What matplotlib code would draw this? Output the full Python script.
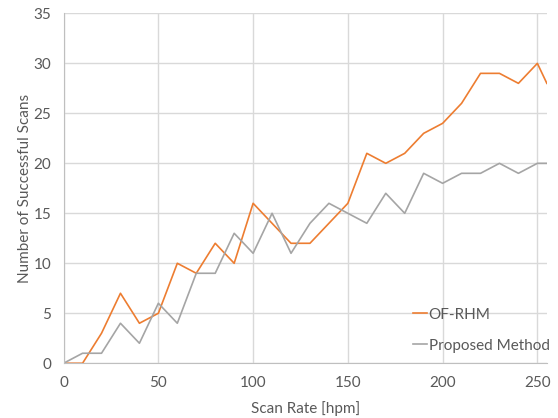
import matplotlib
matplotlib.use("Agg")
import matplotlib.pyplot as plt

# scan rate in hpm, and successful scan counts for each method
scan_rate = [0, 10, 20, 30, 40, 50, 60, 70, 80, 90, 100, 110, 120, 130, 140,
             150, 160, 170, 180, 190, 200, 210, 220, 230, 240, 250, 255]
of_rhm = [0, 0, 3, 7, 4, 5, 10, 9, 12, 10, 16, 14, 12, 12, 14,
          16, 21, 20, 21, 23, 24, 26, 29, 29, 28, 30, 28]
proposed = [0, 1, 1, 4, 2, 6, 4, 9, 9, 13, 11, 15, 11, 14, 16,
            15, 14, 17, 15, 19, 18, 19, 19, 20, 19, 20, 20]

plt.rcParams['font.family'] = ['Lato', 'DejaVu Sans']
text_col = '#595959'

fig = plt.figure(figsize=(5.58, 4.18), dpi=100)
ax = fig.add_axes([0.114, 0.131, 0.866, 0.837])

ax.plot(scan_rate, of_rhm, color='#ED7D31', lw=1.2, label='OF-RHM')
ax.plot(scan_rate, proposed, color='#A5A5A5', lw=1.2, label='Proposed Method')

ax.set_xlim(0, 255)
ax.set_ylim(0, 35)
ax.set_xticks(range(0, 251, 50))
ax.set_yticks(range(0, 36, 5))
ax.grid(True, color='#d9d9d9', lw=1)
ax.set_axisbelow(True)

for side in ['top', 'right']:
    ax.spines[side].set_visible(False)
for side in ['left', 'bottom']:
    ax.spines[side].set_color('#bfbfbf')
ax.tick_params(length=0, colors=text_col, labelsize=11, pad=9)

ax.set_xlabel('Scan Rate [hpm]', color=text_col, fontsize=11, labelpad=8)
ax.set_ylabel('Number of Successful Scans', color=text_col, fontsize=11, labelpad=1)

leg = ax.legend(loc='lower right', frameon=False, fontsize=11,
                handlelength=0.9, handletextpad=0.1, labelspacing=1.1,
                borderaxespad=0.3, bbox_to_anchor=(1.028, 0.0))
for t in leg.get_texts():
    t.set_color(text_col)

fig.savefig('out.png', dpi=100)
